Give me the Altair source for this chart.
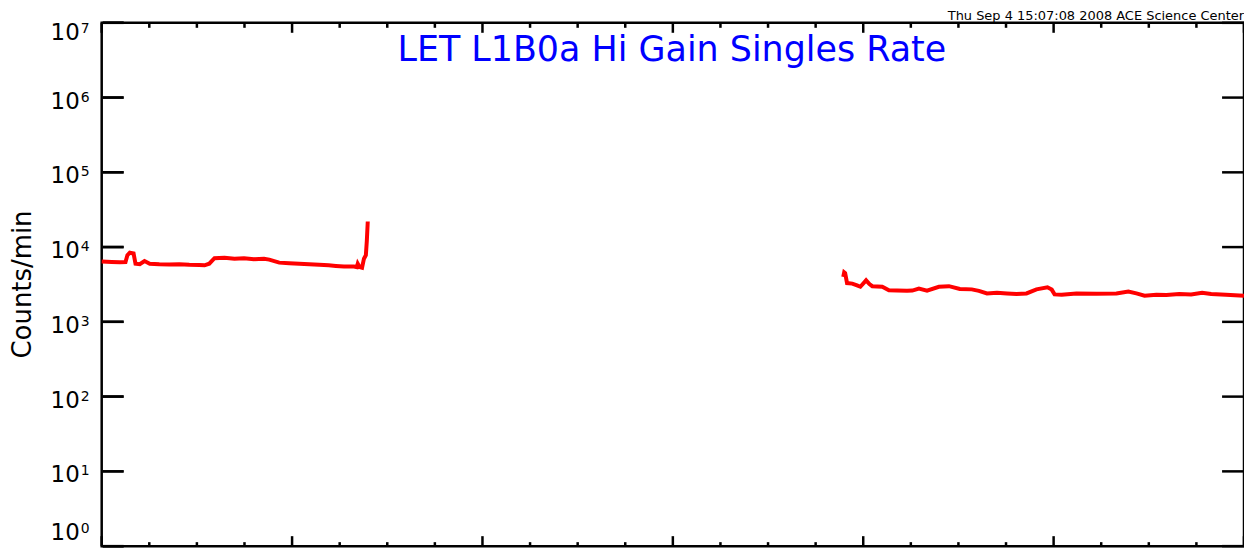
import altair as alt
import pandas as pd

# ---- data ----
hours_seg1 = [0.00, 0.21, 0.38, 0.50, 0.54, 0.59, 0.67, 0.71, 0.80, 0.90, 1.01, 1.21,
              1.42, 1.63, 1.84, 2.05, 2.16, 2.26, 2.37, 2.58, 2.79, 2.99, 3.20, 3.41,
              3.52, 3.73, 3.94, 4.15, 4.36, 4.57, 4.77, 4.92, 5.09, 5.30, 5.36, 5.38,
              5.42, 5.47, 5.51, 5.55, 5.57, 5.59]
counts_seg1 = [6400, 6300, 6250, 6300, 7800, 8400, 8200, 6000, 5900, 6500, 6000, 5900,
               5850, 5900, 5800, 5750, 5700, 6000, 7100, 7200, 7000, 7100, 6900, 7000,
               6800, 6200, 6100, 6000, 5900, 5800, 5700, 5600, 5500, 5500, 5400, 6000,
               5400, 5300, 7000, 7800, 12000, 22000]

hours_seg2 = [15.58, 15.60, 15.62, 15.66, 15.77, 15.87, 15.94, 16.06, 16.13, 16.19,
              16.40, 16.54, 16.71, 16.92, 17.03, 17.17, 17.34, 17.59, 17.80, 18.03,
              18.28, 18.43, 18.60, 18.81, 19.02, 19.22, 19.43, 19.64, 19.87, 19.96,
              20.02, 20.17, 20.48, 20.90, 21.32, 21.57, 21.74, 21.91, 22.16, 22.37,
              22.64, 22.89, 23.12, 23.31, 23.62, 24.00]
counts_seg2 = [4000, 4600, 4500, 3300, 3250, 3080, 2950, 3590, 3200, 3000,
               2950, 2650, 2620, 2600, 2620, 2780, 2620, 2950, 3000, 2750,
               2720, 2600, 2400, 2450, 2400, 2360, 2400, 2720, 2900, 2700,
               2330, 2300, 2400, 2380, 2400, 2550, 2400, 2240, 2300, 2280,
               2360, 2320, 2450, 2360, 2300, 2230]

y_tick_values = [1, 10, 100, 1000, 10000, 100000, 1000000, 10000000]
y_tick_base = ["10"] * 8
y_tick_exponents = ["0", "1", "2", "3", "4", "5", "6", "7"]
x_major_ticks = [0, 4, 8, 12, 16, 20, 24]
x_minor_ticks = [1, 2, 3, 5, 6, 7, 9, 10, 11, 13, 14, 15, 17, 18, 19, 21, 22, 23]

title_text = "LET L1B0a Hi Gain Singles Rate"
stamp_text = "Thu Sep  4 15:07:08 2008 ACE Science Center"
y_title = "Counts/min"

# ---- build ----
W, H = 1146, 525
FONT = "DejaVu Sans"

df = pd.DataFrame({
    "hour": hours_seg1 + hours_seg2,
    "counts": counts_seg1 + counts_seg2,
    "segment": ["a"] * len(hours_seg1) + ["b"] * len(hours_seg2),
})
ylab_df = pd.DataFrame({"v": y_tick_values, "base": y_tick_base, "exp": y_tick_exponents})
yl_df = pd.DataFrame({"vl": y_tick_values})
yr_df = pd.DataFrame({"vr": y_tick_values})
xmaj_df = pd.DataFrame({"v": x_major_ticks})
xmin_df = pd.DataFrame({"v": x_minor_ticks})

xs = alt.Scale(domain=[0, 24], nice=False, zero=False)
ys = alt.Scale(type="log", domain=[1, 1e7], nice=False)

line = alt.Chart(df).mark_line(color="#FF0000", strokeWidth=4).encode(
    x=alt.X("hour:Q", scale=xs, axis=None),
    y=alt.Y("counts:Q", scale=ys, axis=None),
    detail="segment:N",
)

tk = dict(color="black", strokeWidth=2.5)
# left inward ticks, drawn two ways so that one of them is sure to show
yl = alt.Chart(yl_df).mark_rule(**tk).encode(
    y=alt.Y("vl:Q", scale=ys, axis=None), x=alt.value(1), x2=alt.value(22))
yl_rect = alt.Chart(yl_df).mark_rect(stroke="black", strokeWidth=2.5, fill="black").encode(
    y=alt.Y("vl:Q", scale=ys, axis=None), y2="vl:Q", x=alt.value(1), x2=alt.value(22))
yr = alt.Chart(yr_df).mark_rule(**tk).encode(
    y=alt.Y("vr:Q", scale=ys, axis=None), x=alt.value(W - 22), x2=alt.value(W))
xb = alt.Chart(xmaj_df).mark_rule(**tk).encode(
    x=alt.X("v:Q", scale=xs, axis=None), y=alt.value(H), y2=alt.value(H - 10))
xt = alt.Chart(xmaj_df).mark_rule(**tk).encode(
    x=alt.X("v:Q", scale=xs, axis=None), y=alt.value(0), y2=alt.value(10))
xbm = alt.Chart(xmin_df).mark_rule(**tk).encode(
    x=alt.X("v:Q", scale=xs, axis=None), y=alt.value(H), y2=alt.value(H - 4))
xtm = alt.Chart(xmin_df).mark_rule(**tk).encode(
    x=alt.X("v:Q", scale=xs, axis=None), y=alt.value(0), y2=alt.value(5))


def y_labels(test, dy):
    base = alt.Chart(ylab_df).transform_filter(test).mark_text(
        font=FONT, fontSize=23, color="black", align="right", baseline="alphabetic", dy=dy
    ).encode(y=alt.Y("v:Q", scale=ys, axis=None), x=alt.value(-22), text="base:N")
    sup = alt.Chart(ylab_df).transform_filter(test).mark_text(
        font=FONT, fontSize=14, color="black", align="left", baseline="alphabetic", dy=dy - 7
    ).encode(y=alt.Y("v:Q", scale=ys, axis=None), x=alt.value(-21), text="exp:N")
    return [base, sup]


lab_mid = y_labels("datum.v > 1 && datum.v < 1e7", 11)
lab_top = y_labels("datum.v >= 1e7", 17)
lab_bot = y_labels("datum.v <= 1", -6)

ytitle = alt.Chart(pd.DataFrame({"t": [y_title]})).mark_text(
    font=FONT, fontSize=26, color="black", angle=270, align="center", baseline="middle"
).encode(x=alt.value(-79), y=alt.value(H / 2), text="t:N")

title = alt.Chart(pd.DataFrame({"t": [title_text]})).mark_text(
    font=FONT, fontSize=35, color="#0000FF", align="center", baseline="alphabetic"
).encode(x=alt.value(572), y=alt.value(38), text="t:N")

stamp = alt.Chart(pd.DataFrame({"t": [stamp_text]})).mark_text(
    font=FONT, fontSize=13, color="black", align="right", baseline="alphabetic"
).encode(x=alt.value(W), y=alt.value(-3), text="t:N")

chart = alt.layer(line, xb, xt, xbm, xtm, *lab_mid, *lab_top, *lab_bot,
                  ytitle, title, stamp, yr, yl, yl_rect).properties(
    width=W, height=H,
    autosize=alt.AutoSizeParams(type="none"),
    padding={"left": 94, "top": 14, "right": 0, "bottom": 1},
    background="white",
).configure_view(stroke="black", strokeWidth=2.5)

chart.save("out.html", embed_options={"renderer": "svg", "actions": False})
